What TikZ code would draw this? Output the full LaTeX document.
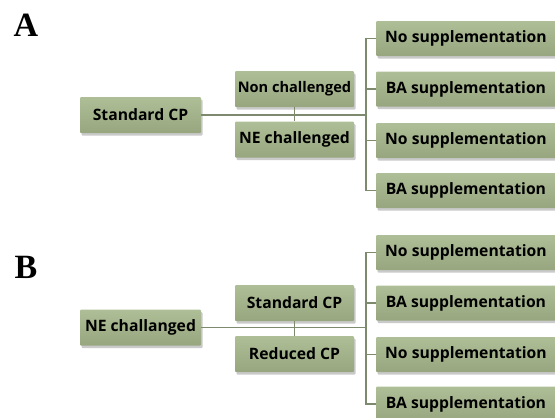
\documentclass[tikz,border=0pt]{standalone}
\usepackage{fontspec}
\setmainfont{Open Sans}
\newfontfamily\serifbf{Liberation Serif}
\usetikzlibrary{shadows}
\definecolor{boxtop}{HTML}{AEBE97}
\definecolor{boxbot}{HTML}{97A67F}
\definecolor{linec}{HTML}{7D8A6E}
\tikzset{
  gbox/.style={rectangle, rounded corners=1pt, top color=boxtop, bottom color=boxbot,
    draw=none, minimum height=36pt, inner sep=0pt, font=\fontsize{15.7}{18}\selectfont\bfseries,
    text=black, drop shadow={shadow xshift=1.5pt, shadow yshift=-2.5pt, opacity=0.35, fill=black!60}},
  leftbox/.style={gbox, minimum width=121pt},
  midbox/.style={gbox, minimum width=119pt},
  narrowtext/.style={font=\fontsize{14.6}{17}\selectfont\bfseries},
  rightbox/.style={gbox, minimum width=180pt, minimum height=35pt},
  conn/.style={draw=linec, line width=1.3pt},
  panel/.style={font=\serifbf\fontsize{34}{34}\selectfont\bfseries}
}
\begin{document}
\begin{tikzpicture}[x=1pt,y=-1pt]
\useasboundingbox (0,0) rectangle (555,418);
% Panel A
\node[panel] (pa) at (26,25) {A};
\node[leftbox] (aL) at (140.5,115) {Standard CP};
\node[midbox, narrowtext] (aM1) at (294.5,89) {Non challenged};
\node[midbox] (aM2) at (294.5,139.5) {NE challenged};
\node[rightbox] (aR1) at (466,38.5) {No supplementation};
\node[rightbox] (aR2) at (466,89) {BA supplementation};
\node[rightbox] (aR3) at (466,140.5) {No supplementation};
\node[rightbox] (aR4) at (466,190.5) {BA supplementation};
\coordinate (aJ) at (366,115);
\draw[conn] (aL.east) -- (aJ);
\draw[conn] (aM1.south) -- (aM2.north);
\draw[conn] (aR1.west) -| (aJ) |- (aR4.west);
\draw[conn] (aR2.west) -- (aR2.west -| aJ);
\draw[conn] (aR3.west) -- (aR3.west -| aJ);
% Panel B
\node[panel] (pb) at (26,267) {B};
\node[leftbox] (bL) at (140.5,327.5) {NE challanged};
\node[midbox] (bM1) at (294.5,303) {Standard CP};
\node[midbox] (bM2) at (294.5,354) {Reduced CP};
\node[rightbox] (bR1) at (466,252.5) {No supplementation};
\node[rightbox] (bR2) at (466,303) {BA supplementation};
\node[rightbox] (bR3) at (466,354.5) {No supplementation};
\node[rightbox] (bR4) at (466,404) {BA supplementation};
\coordinate (bJ) at (366,327.5);
\draw[conn] (bL.east) -- (bJ);
\draw[conn] (bM1.south) -- (bM2.north);
\draw[conn] (bR1.west) -| (bJ) |- (bR4.west);
\draw[conn] (bR2.west) -- (bR2.west -| bJ);
\draw[conn] (bR3.west) -- (bR3.west -| bJ);
\end{tikzpicture}
\end{document}
